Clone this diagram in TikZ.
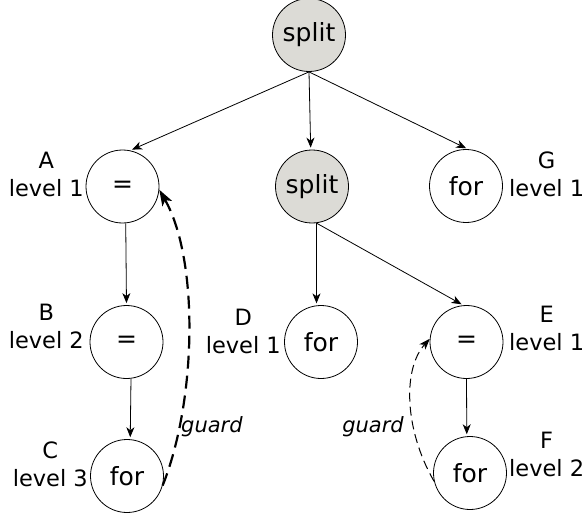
\documentclass[tikz,border=0pt]{standalone}
\usepackage{fontspec}
\setmainfont{DejaVu Sans}
\usetikzlibrary{arrows.meta}
\definecolor{nodegray}{RGB}{220,219,214}
\begin{document}
\begin{tikzpicture}[x=1pt,y=-1pt,
  opnode/.style={circle,draw,line width=0.8pt,minimum size=73pt,inner sep=0pt,font=\fontsize{25}{30}\selectfont},
  splitnode/.style={opnode,fill=nodegray},
  lbl/.style={align=center,inner sep=0pt,font=\fontsize{22.5}{28}\selectfont},
  edge/.style={line width=0.8pt,-{Stealth[length=10pt,width=8pt,inset=3pt]},shorten >=2pt},
  guardthick/.style={line width=2.2pt,dash pattern=on 13pt off 7pt,-{Stealth[length=16pt,width=11pt,inset=4pt]}},
  guardthin/.style={line width=1pt,dash pattern=on 9pt off 5pt,-{Stealth[length=11pt,width=8pt,inset=3pt]}},
  glbl/.style={inner sep=0pt,font=\fontsize{21}{25}\selectfont\itshape}]
\useasboundingbox (0,0) rectangle (586,516);
% nodes
\node[splitnode] (S1) at (309,35) {split};
\node[opnode] (A) at (122.5,186.5) {=};
\node[splitnode] (S2) at (312,186.5) {split};
\node[opnode] (G) at (466,186) {for};
\node[opnode] (B) at (126.5,342) {=};
\node[opnode] (D) at (321,342) {for};
\node[opnode] (E) at (466.5,342) {=};
\node[opnode] (C) at (127,476) {for};
\node[opnode] (F) at (470,473) {for};
% labels
\node[lbl,anchor=east] (LA) at (84,174) {A\\level 1};
\node[lbl,anchor=east] (LB) at (84,326) {B\\level 2};
\node[lbl,anchor=east] (LC) at (88,464) {C\\level 3};
\node[lbl,anchor=east] (LD) at (281,331) {D\\level 1};
\node[lbl,anchor=west] (LE) at (509,328) {E\\level 1};
\node[lbl,anchor=west] (LF) at (509,454) {F\\level 2};
\node[lbl,anchor=west] (LG) at (509,174) {G\\level 1};
% edges
\draw[edge] (S1.south) -- (A.78);
\draw[edge] (S1.south) -- (S2.92);
\draw[edge] (S1.south) -- (G.87);
\draw[edge] (A.-85) -- (B.north);
\draw[edge] (B.-83) -- (C.85);
\draw[edge] (S2.-83) -- (D.97);
\draw[edge] (S2.-83) -- (E.95);
\draw[edge] (E.south) -- (F.95);
% guard edges
\draw[guardthick] (C.-15) .. controls +(34,-85) and +(40,70) .. (A.-5);
\node[glbl,anchor=west] (g1) at (181,427) {guard};
\draw[guardthin] (F.193) .. controls +(-30,-52) and +(-27,30) .. (E.175);
\node[glbl,anchor=east] (g2) at (404,427) {guard};
\end{tikzpicture}
\end{document}
